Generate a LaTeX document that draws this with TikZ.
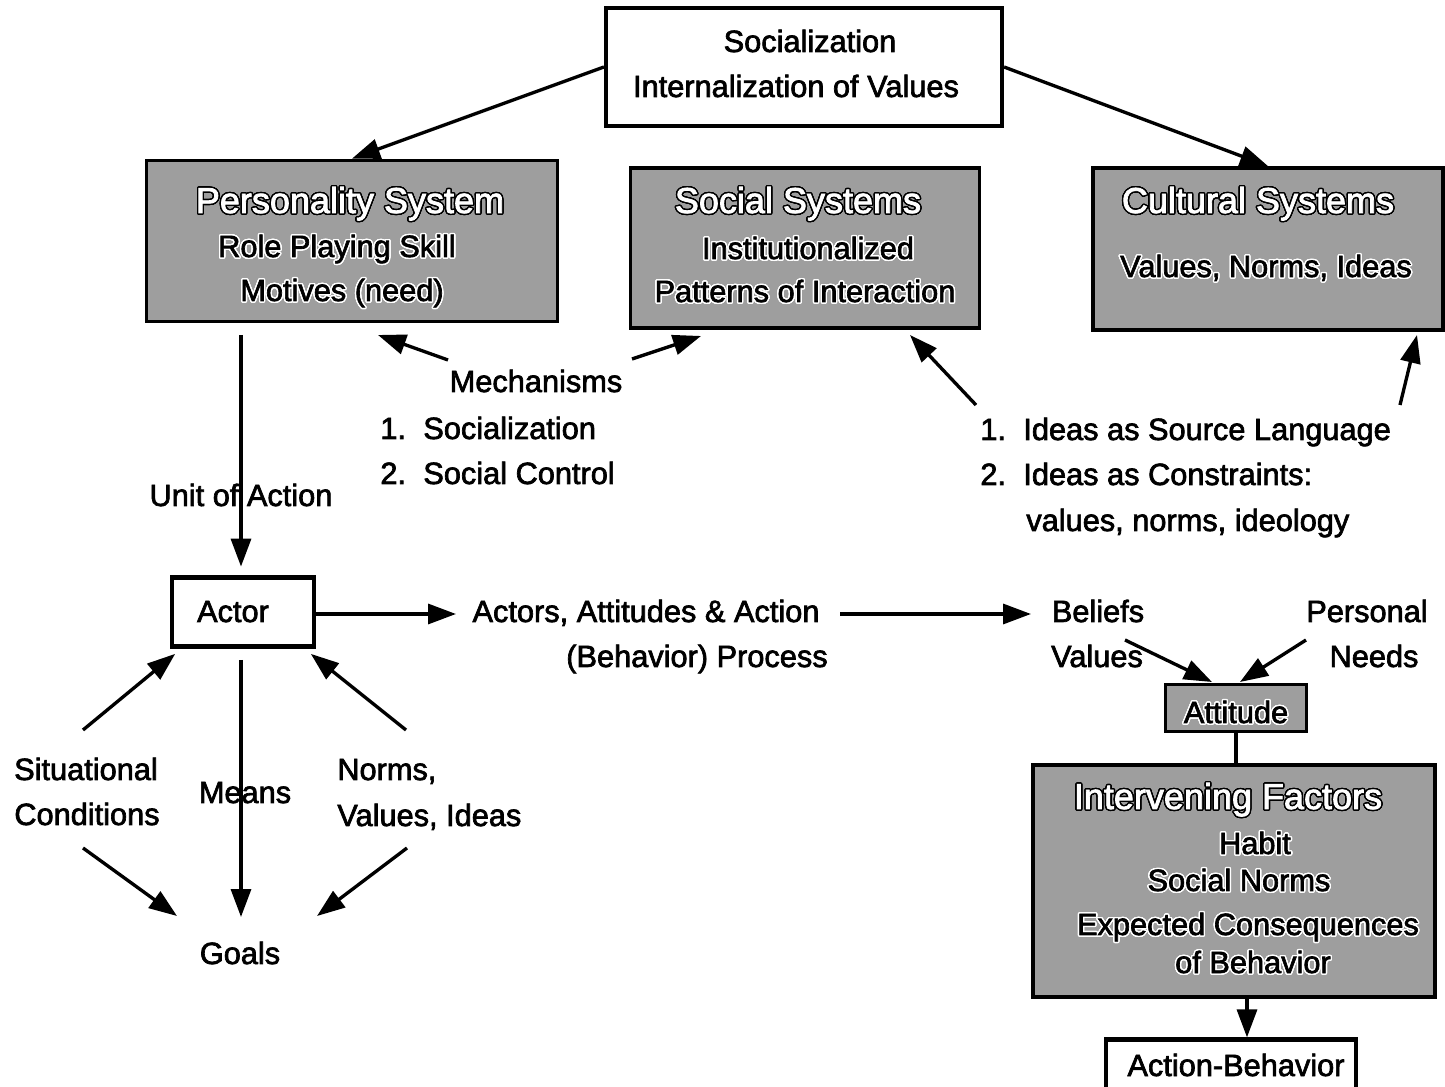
\documentclass[tikz,border=0pt]{standalone}
\usepackage{fontspec}
\setmainfont{Liberation Sans}[BoldFont=Liberation Sans,BoldFeatures={FakeBold=2.2}]
\usepackage{contour}
\contourlength{0.8pt}
\contournumber{24}
\usetikzlibrary{arrows.meta}

\tikzset{
  arr/.style={line width=1.9pt,-{Triangle[length=0.56cm,width=0.4cm]}},
  wbox/.style={draw,line width=2.4pt,fill=white,inner sep=0pt},
  gbox/.style={draw,line width=2.2pt,fill=black!38,inner sep=0pt},
  txt/.style={font=\fontsize{17.5}{25.5}\selectfont\bfseries,inner sep=0pt,anchor=base},
  ttl/.style={font=\fontsize{20.5}{25.5}\selectfont\bfseries,inner sep=0pt,anchor=base},
  ltxt/.style={txt,anchor=base west},
}
\newcommand{\ttltext}[1]{\textcolor{white}{\contour{black}{#1}}}
\newcommand{\intext}[1]{\contour{white}{#1}}
\newcommand{\itemno}[1]{\makebox[0.86cm][l]{#1}}

\begin{document}
\begin{tikzpicture}[x=0.02cm,y=-0.02cm]
\useasboundingbox (0,0) rectangle (1445,1087);

% top box
\node[wbox,minimum width=7.92cm,minimum height=2.36cm] (soc) at (804,67) {};
\node[txt] (socA) at (810,52) {Socialization};
\node[txt] (socB) at (796,97) {Internalization of Values};

% three systems
\node[gbox,minimum width=8.22cm,minimum height=3.22cm] (pers) at (352,241) {};
\node[ttl] (persT) at (350,213) {\ttltext{Personality System}};
\node[txt] (persA) at (337,257) {\intext{Role Playing Skill}};
\node[txt] (persB) at (342,301) {\intext{Motives (need)}};

\node[gbox,minimum width=6.98cm,minimum height=3.2cm] (sosys) at (805,248) {};
\node[ttl] (sosysT) at (798,213) {\ttltext{Social Systems}};
\node[txt] (sosysA) at (808,259) {\intext{Institutionalized}};
\node[txt] (sosysB) at (805,302) {\intext{Patterns of Interaction}};

\node[gbox,minimum width=7.0cm,minimum height=3.24cm] (cult) at (1268,249) {};
\node[ttl] (cultT) at (1258,213) {\ttltext{Cultural Systems}};
\node[txt] (cultA) at (1266,277) {\intext{Values, Norms, Ideas}};

\draw[arr] (soc.west) -- (pers.north);
\draw[arr] (soc.east) -- (cult.north);

% mechanisms
\node[txt] (mech) at (536,392) {Mechanisms};
\node[ltxt] (mechA) at (380,439) {\itemno{1.}Socialization};
\node[ltxt] (mechB) at (380,484) {\itemno{2.}Social Control};
\coordinate (mechL) at (448,360);
\coordinate (mechR) at (632,359);
\coordinate (persM) at (378,335);
\coordinate (sosysM) at (701,336);
\draw[arr] (mechL) -- (persM);
\draw[arr] (mechR) -- (sosysM);

% ideas
\node[ltxt] (ideaA) at (980,440) {\itemno{1.}Ideas as Source Language};
\node[ltxt] (ideaB) at (980,485) {\itemno{2.}Ideas as Constraints:};
\node[ltxt] (ideaC) at (1026,531) {values, norms, ideology};
\coordinate (ideaL) at (976,405);
\coordinate (ideaR) at (1400,405);
\coordinate (sosysI) at (910,335);
\coordinate (cultI) at (1417,335);
\draw[arr] (ideaL) -- (sosysI);
\draw[arr] (ideaR) -- (cultI);

% actor
\node[wbox,minimum width=2.84cm,minimum height=1.38cm] (actor) at (243,612) {};
\node[txt] (actorT) at (233,622) {Actor};
\coordinate (persOut) at (241,335);
\draw[arr] (persOut) -- ([yshift=5pt]persOut |- actor.north);
\node[txt] (unit) at (241,506) {Unit of Action};

\node[txt] (sitA) at (86,780) {Situational};
\node[txt] (sitB) at (87,825) {Conditions};
\node[txt] (means) at (245,803) {Means};
\node[ltxt] (normA) at (337,780) {Norms,};
\node[ltxt] (normB) at (337,826) {Values, Ideas};
\node[txt] (goals) at (240,964) {Goals};

\coordinate (sitUp) at (83,730);
\coordinate (normUp) at (406,730);
\coordinate (sitDn) at (83,848);
\coordinate (normDn) at (407,848);
\coordinate (actorDn) at (241,660);
\coordinate (goalsL) at (177,916);
\coordinate (goalsR) at (317,916);
\coordinate (goalsT) at (241,917);
\draw[arr] (sitUp) -- ([shift={(3pt,-3pt)}]actor.south west);
\draw[arr] (normUp) -- ([shift={(-3pt,-3pt)}]actor.south east);
\draw[arr] (actorDn) -- (goalsT);
\draw[arr] (sitDn) -- (goalsL);
\draw[arr] (normDn) -- (goalsR);

% process
\node[txt] (procA) at (646,622) {Actors, Attitudes \& Action};
\node[txt] (procB) at (697,667) {(Behavior) Process};
\coordinate (procIn) at (456,614);
\coordinate (procOut) at (840,614);
\coordinate (belIn) at (1031,614);
\draw[arr] (actor.east |- procIn) -- (procIn);
\draw[arr] (procOut) -- (belIn);

% attitude side
\node[txt] (belA) at (1098,622) {Beliefs};
\node[txt] (belB) at (1097,667) {Values};
\node[txt] (needA) at (1367,622) {Personal};
\node[txt] (needB) at (1374,667) {Needs};

\node[gbox,minimum width=2.82cm,minimum height=0.94cm] (att) at (1236,708) {};
\node[txt] (attT) at (1236,723) {\intext{Attitude}};
\coordinate (belOut) at (1125,640);
\coordinate (needOut) at (1306,640);
\coordinate (attL) at (1212,682);
\coordinate (attR) at (1240,682);
\draw[arr] (belOut) -- (attL);
\draw[arr] (needOut) -- (attR);

\node[gbox,minimum width=8.04cm,minimum height=4.64cm] (interv) at (1234,881) {};
\node[ttl] (intervT) at (1228,809) {\ttltext{Intervening Factors}};
\node[txt] (intervA) at (1255,854) {\intext{Habit}};
\node[txt] (intervB) at (1239,891) {\intext{Social Norms}};
\node[txt] (intervC) at (1248,935) {\intext{Expected Consequences}};
\node[txt] (intervD) at (1253,973) {\intext{of Behavior}};
\draw[line width=1.9pt] (att.south) -- (att.south |- interv.north);

\node[wbox,minimum width=5.0cm,minimum height=1.3cm] (act) at (1231,1072) {};
\node[txt] (actT) at (1236,1076) {Action-Behavior};
\coordinate (intervOut) at (1247,997);
\draw[arr] (intervOut) -- (intervOut |- act.north);
\end{tikzpicture}
\end{document}
